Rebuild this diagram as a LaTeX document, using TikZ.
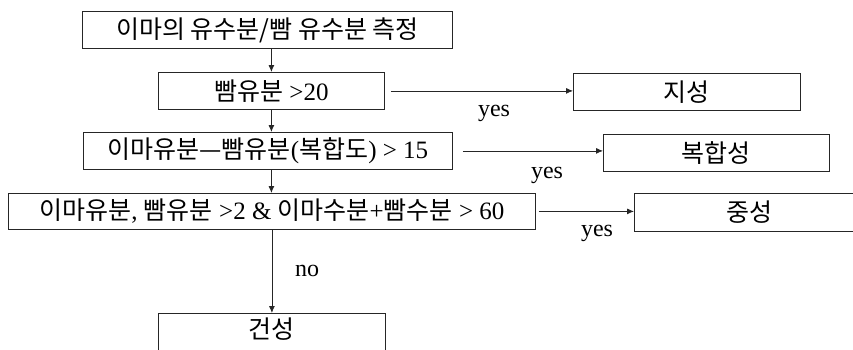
\documentclass[tikz,border=0pt]{standalone}
\usepackage{fontspec}
\setmainfont{Liberation Serif}
\newfontfamily\krfont{Noto Sans CJK KR}
\newcommand{\kor}[1]{{\krfont #1}}
\usetikzlibrary{arrows.meta}
\begin{document}
\begin{tikzpicture}[x=1pt,y=-1pt,
  box/.style={draw=black!85, line width=0.8pt, rectangle, anchor=north west, inner sep=0pt,
    font=\fontsize{25}{29}\selectfont},
  arr/.style={draw=black!85, line width=0.8pt, -{Latex[length=7pt,width=6pt]}},
  lab/.style={font=\fontsize{24}{28}\selectfont, inner sep=0pt}]
\clip (0,0) rectangle (853,349);
\fill[white] (0,0) rectangle (853,349);
\node[box, minimum width=370pt, minimum height=37pt] (b1) at (82,11) {\kor{이마의 유수분/빰 유수분 측정}};
\node[box, minimum width=226pt, minimum height=37pt] (b2) at (158,72) {\kor{빰유분} >20};
\node[box, minimum width=369pt, minimum height=37pt] (b3) at (83,132) {\kor{이마유분—빰유분}(\kor{복합도}) > 15};
\node[box, minimum width=527pt, minimum height=36pt] (b4) at (8,193) {\kor{이마유분}, \kor{빰유분} >2 \& \kor{이마수분}+\kor{빰수분} > 60};
\node[box, minimum width=227pt, minimum height=60pt, text depth=31pt] (b5) at (158,313) {\kor{건성}};
\node[box, minimum width=227pt, minimum height=37pt] (j) at (573,73) {\kor{지성}};
\node[box, minimum width=226pt, minimum height=37pt] (bh) at (603,134) {\kor{복합성}};
\node[box, minimum width=230pt, minimum height=38pt] (jg) at (634,193) {\kor{중성}};
\coordinate (c1) at (b2.north |- b1.south);
\coordinate (c2) at (b2.south |- b3.north);
\coordinate (c3) at (b2.south |- b3.south);
\coordinate (c4) at (b2.south |- b4.north);
\coordinate (c5) at (b5.north |- b4.south);
\draw[arr] (c1) -- (b2.north);
\draw[arr] (b2.south) -- (c2);
\draw[arr] (c3) -- (c4);
\draw[arr] (c5) -- (b5.north);
\draw[arr] ([xshift=6pt]b2.east) -- (b2.east -| j.west);
\draw[arr] ([xshift=10pt]b3.east) -- (b3.east -| bh.west);
\draw[arr] ([xshift=3pt]b4.east) -- (b4.east -| jg.west);
\node[lab] (y1) at (494,113) {yes};
\node[lab] (y2) at (547,175) {yes};
\node[lab] (y3) at (597,233) {yes};
\node[lab] (n1) at (307,271) {no};
\end{tikzpicture}
\end{document}
